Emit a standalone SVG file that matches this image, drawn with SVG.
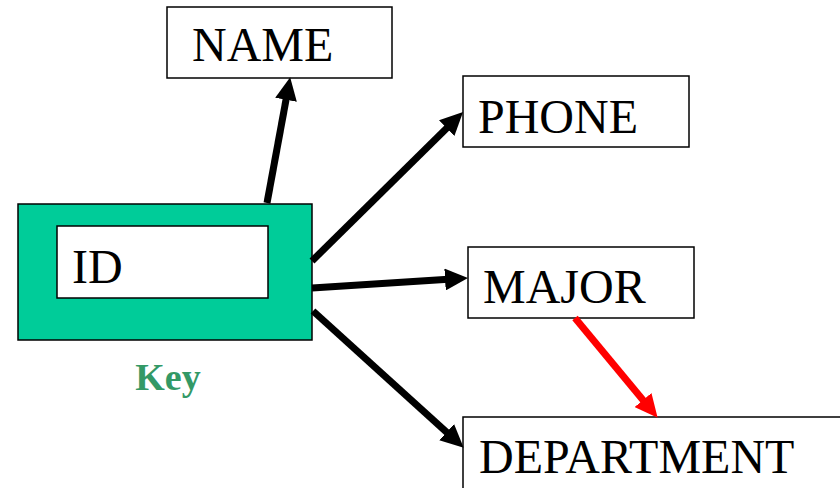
<svg xmlns="http://www.w3.org/2000/svg" width="840" height="488" viewBox="0 0 840 488">
<style>
.box{fill:#fff;stroke:#000;stroke-width:1.5}
.lbl{font-family:"Liberation Serif","Times New Roman",serif;font-size:48px;fill:#000}
.key{font-family:"Liberation Serif","Times New Roman",serif;font-size:38px;font-weight:bold;fill:#339966}
.conn{fill:none;stroke:#000;stroke-width:7}
.red{stroke:#FF0000}
</style>
<defs>
<marker id="ah" viewBox="0 0 23 22" refX="11" refY="11" markerWidth="23" markerHeight="22" markerUnits="userSpaceOnUse" orient="auto">
<path d="M0,0 L23,11 L0,22 Z" fill="#000"/>
</marker>
<marker id="ahr" viewBox="0 0 23 22" refX="11" refY="11" markerWidth="23" markerHeight="22" markerUnits="userSpaceOnUse" orient="auto">
<path d="M0,0 L23,11 L0,22 Z" fill="#FF0000"/>
</marker>
</defs>
<rect width="840" height="488" fill="#fff"/>
<g id="name">
<rect class="box" x="167" y="7" width="225" height="71"/>
<text class="lbl" x="192" y="61">NAME</text>
</g>
<g id="phone">
<rect class="box" x="463" y="76" width="226" height="71"/>
<text class="lbl" x="478" y="133">PHONE</text>
</g>
<g id="major">
<rect class="box" x="468" y="247" width="226" height="71"/>
<text class="lbl" x="483" y="303">MAJOR</text>
</g>
<g id="department">
<rect class="box" x="463" y="417" width="390" height="90"/>
<text class="lbl" x="479" y="473">DEPARTMENT</text>
</g>
<g id="key">
<rect x="18" y="204" width="294" height="136" fill="#00CC99" stroke="#000" stroke-width="1.5"/>
<rect class="box" x="57" y="226" width="211" height="72"/>
<text class="lbl" x="72" y="283">ID</text>
<text class="key" x="168" y="390" text-anchor="middle">Key</text>
</g>
<g id="connectors">
<line class="conn" x1="267" y1="203" x2="288" y2="89" marker-end="url(#ah)"/>
<line class="conn" x1="312" y1="261" x2="454.5" y2="120.4" marker-end="url(#ah)"/>
<line class="conn" x1="312" y1="288" x2="456" y2="278.8" marker-end="url(#ah)"/>
<line class="conn" x1="313" y1="311" x2="454.8" y2="439.6" marker-end="url(#ah)"/>
<line class="conn red" x1="575" y1="318" x2="650" y2="408.5" marker-end="url(#ahr)"/>
</g>
</svg>
